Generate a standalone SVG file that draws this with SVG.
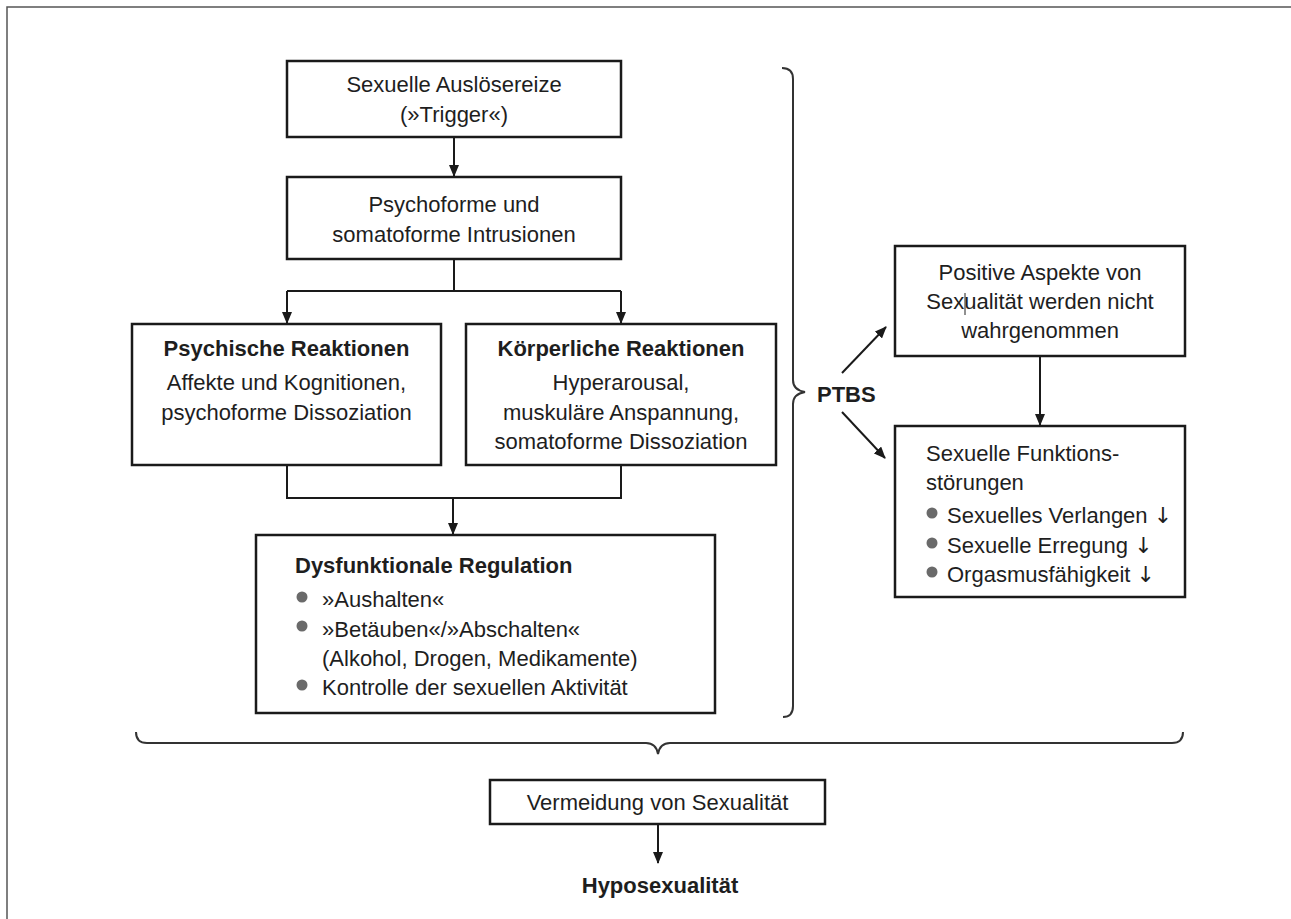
<svg xmlns="http://www.w3.org/2000/svg" width="1291" height="919" viewBox="0 0 1291 919">
<style>
.box{fill:#fff;stroke:#1a1a1a;stroke-width:2.5}
.t{font-family:"Liberation Sans",Arial,sans-serif;font-size:22px;fill:#1e1e1e}
.c{text-anchor:middle}
.b{font-weight:bold}
.ar{font-family:"DejaVu Sans","Liberation Sans",sans-serif;fill:#1e1e1e}
.ln{fill:none;stroke:#1a1a1a;stroke-width:2}
.br{fill:none;stroke:#333;stroke-width:2}
.dot{fill:#6a6a6a}
</style>
<defs>
<marker id="ah" markerWidth="12" markerHeight="10" refX="11" refY="5" orient="auto" markerUnits="userSpaceOnUse">
<path d="M0,0 L12,5 L0,10 Z" fill="#1a1a1a"/>
</marker>
</defs>
<rect width="1291" height="919" fill="#fff"/>
<path d="M7,919 V7 H1291" fill="none" stroke="#555" stroke-width="1.5"/>

<g id="connectors">
<path class="ln" d="M454,137 V176" marker-end="url(#ah)"/>
<path class="ln" d="M454,259 V291"/>
<path class="ln" d="M287,291 H621"/>
<path class="ln" d="M287,291 V323" marker-end="url(#ah)"/>
<path class="ln" d="M621,291 V323" marker-end="url(#ah)"/>
<path class="ln" d="M287,465 V498 H621 V465"/>
<path class="ln" d="M453,498 V534" marker-end="url(#ah)"/>
<path class="ln" d="M842,373 L886,327" marker-end="url(#ah)"/>
<path class="ln" d="M842,412 L885,458" marker-end="url(#ah)"/>
<path class="ln" d="M1040,356 V425" marker-end="url(#ah)"/>
<path class="ln" d="M658,824 V863" marker-end="url(#ah)"/>
<path class="br" d="M782,68 Q793,68 793,79 V380 Q793,390 805,392 Q793,394 793,404 V706 Q793,717 783,717"/>
<path class="br" d="M136,732 Q136,743 147,743 H646 Q656,743 658,754 Q660,743 670,743 H1172 Q1183,743 1183,732"/>
</g>

<g id="n1">
<rect class="box" x="287" y="61" width="334" height="76"/>
<text class="t c" x="454" y="92">Sexuelle Auslösereize</text>
<text class="t c" x="454" y="122">(»Trigger«)</text>
</g>

<g id="n2">
<rect class="box" x="287" y="177" width="334" height="82"/>
<text class="t c" x="454" y="212">Psychoforme und</text>
<text class="t c" x="454" y="242">somatoforme Intrusionen</text>
</g>

<g id="n3">
<rect class="box" x="132" y="324" width="309" height="141"/>
<text class="t c b" x="286.5" y="356">Psychische Reaktionen</text>
<text class="t c" x="286.5" y="390">Affekte und Kognitionen,</text>
<text class="t c" x="286.5" y="420">psychoforme Dissoziation</text>
</g>

<g id="n4">
<rect class="box" x="466" y="324" width="310" height="141"/>
<text class="t c b" x="621" y="356">Körperliche Reaktionen</text>
<text class="t c" x="621" y="390">Hyperarousal,</text>
<text class="t c" x="621" y="420">muskuläre Anspannung,</text>
<text class="t c" x="621" y="449">somatoforme Dissoziation</text>
</g>

<g id="n5">
<rect class="box" x="256" y="535" width="459" height="178"/>
<text class="t b" x="295" y="573">Dysfunktionale Regulation</text>
<circle class="dot" cx="302" cy="597" r="5.5"/>
<text class="t" x="322" y="607">»Aushalten«</text>
<circle class="dot" cx="302" cy="626" r="5.5"/>
<text class="t" x="322" y="637">»Betäuben«/»Abschalten«</text>
<text class="t" x="322" y="666">(Alkohol, Drogen, Medikamente)</text>
<circle class="dot" cx="302" cy="685" r="5.5"/>
<text class="t" x="322" y="695">Kontrolle der sexuellen Aktivität</text>
</g>

<g id="ptbs">
<text class="t b" x="817" y="402">PTBS</text>
</g>

<g id="n6">
<rect class="box" x="895" y="246" width="290" height="110"/>
<text class="t c" x="1040" y="280">Positive Aspekte von</text>
<text class="t c" x="1040" y="309">Sexualität werden nicht</text>
<text class="t c" x="1040" y="338">wahrgenommen</text>
<line x1="965" y1="293" x2="965" y2="315" stroke="#222" stroke-width="1"/>
</g>

<g id="n7">
<rect class="box" x="895" y="426" width="290" height="171"/>
<text class="t" x="926" y="461">Sexuelle Funktions-</text>
<text class="t" x="926" y="490">störungen</text>
<circle class="dot" cx="932" cy="513" r="5.5"/>
<text class="t" x="947" y="523">Sexuelles Verlangen <tspan class="ar">↓</tspan></text>
<circle class="dot" cx="932" cy="543" r="5.5"/>
<text class="t" x="947" y="553">Sexuelle Erregung <tspan class="ar">↓</tspan></text>
<circle class="dot" cx="932" cy="572" r="5.5"/>
<text class="t" x="947" y="582">Orgasmusfähigkeit <tspan class="ar">↓</tspan></text>
</g>

<g id="n8">
<rect class="box" x="490" y="780" width="335" height="44"/>
<text class="t c" x="657.5" y="810">Vermeidung von Sexualität</text>
</g>

<g id="n9">
<text class="t c b" x="660" y="893">Hyposexualität</text>
</g>
</svg>
